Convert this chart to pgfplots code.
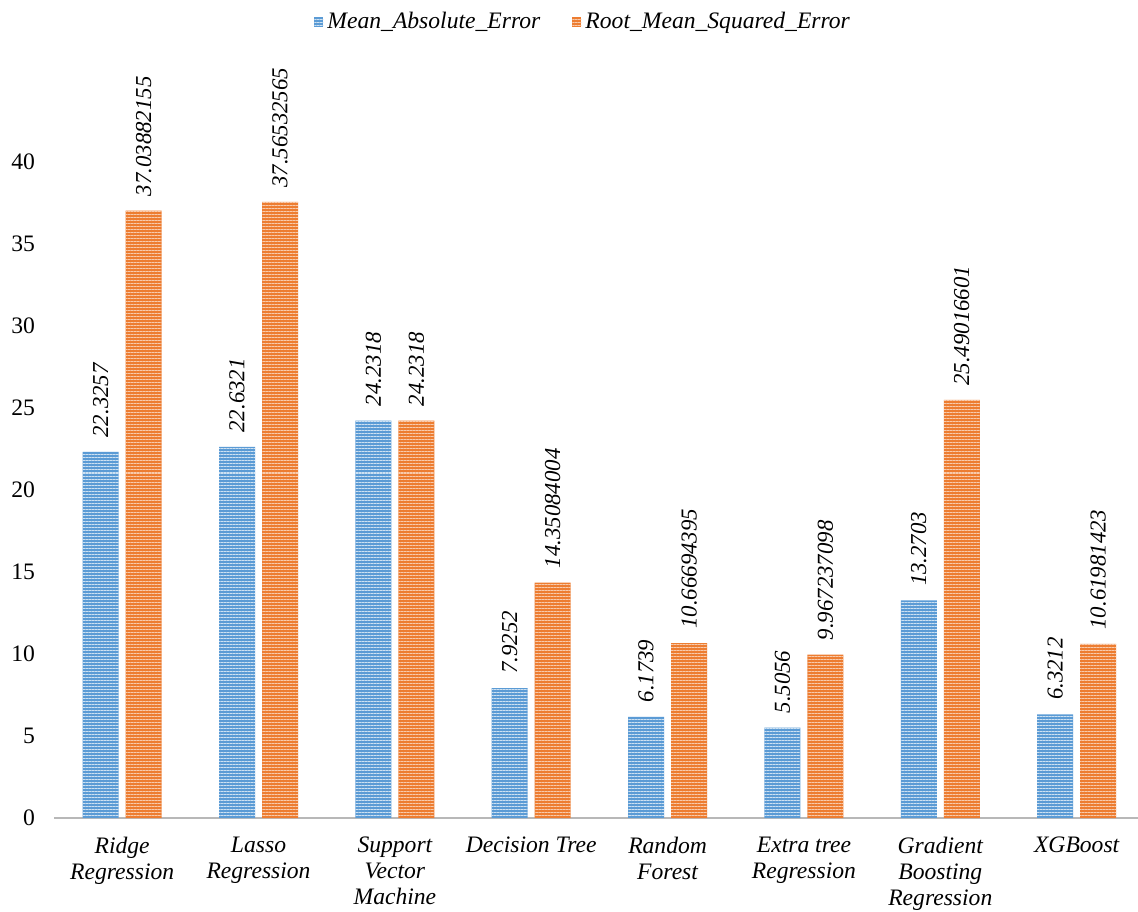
\documentclass[border=0pt]{standalone}
\usepackage{fontspec}
\setmainfont{Liberation Serif}
\usepackage{pgfplots}
\pgfplotsset{compat=1.18}
\usetikzlibrary{patterns.meta}
\definecolor{mblue}{RGB}{91,155,213}
\definecolor{morange}{RGB}{237,125,49}
\begin{document}
\begin{tikzpicture}
\path[use as bounding box] (0,0) rectangle (569pt,455.5pt);
\begin{axis}[
  at={(27pt,46.5pt)}, anchor=south west,
  scale only axis, width=542pt, height=369pt,
  ybar=3.5pt, bar width=18pt,
  xmin=-0.5, xmax=7.45, ymin=0, ymax=45,
  xtick={0,1,2,3,4,5,6,7},
  xticklabels={{Ridge\\Regression},{Lasso\\Regression},{Support\\Vector\\Machine},{Decision Tree},{Random\\Forest},{Extra tree\\Regression},{Gradient\\Boosting\\Regression},{XGBoost}},
  ytick={0,5,10,15,20,25,30,35,40},
  axis x line=bottom, axis y line=left, axis line style={-},
  x axis line style={draw=black!28, line width=1.4pt},
  y axis line style={draw=none},
  major tick length=0pt,
  /pgf/number format/assume math mode=true,
  tick label style={font=\fontsize{11.8}{13}\selectfont},
  xticklabel style={font=\fontsize{11.8}{13}\selectfont\itshape, align=center, yshift=-6pt},
  yticklabel style={xshift=-6pt},
  clip=false,
  point meta=explicit symbolic,
  nodes near coords={\pgfplotspointmeta},
  every node near coord/.append style={rotate=90, anchor=west, inner xsep=7pt, font=\fontsize{11.4}{13}\selectfont\itshape, black},
  legend style={at={(0.489,1.0786)}, anchor=center, draw=none, legend columns=2, font=\fontsize{11.8}{13}\selectfont\itshape, /tikz/every even column/.append style={column sep=14pt}},
  legend image code/.code={\fill[#1] (0pt,-2.3pt) rectangle (4.6pt,2.3pt);},
]
\addplot[draw=none, fill=mblue, postaction={pattern={Lines[angle=0,distance=1.5pt,line width=0.5pt]}, pattern color=white!70!mblue}] coordinates {
 (0,22.3257) [22.3257]
 (1,22.6321) [22.6321]
 (2,24.2318) [24.2318]
 (3,7.9252) [7.9252]
 (4,6.1739) [6.1739]
 (5,5.5056) [5.5056]
 (6,13.2703) [13.2703]
 (7,6.3212) [6.3212]
};
\addplot[draw=none, fill=morange, postaction={pattern={Lines[angle=0,distance=1.5pt,line width=0.5pt]}, pattern color=white!60!morange}] coordinates {
 (0,37.03882155) [37.03882155]
 (1,37.56532565) [37.56532565]
 (2,24.2318) [24.2318]
 (3,14.35084004) [14.35084004]
 (4,10.66694395) [10.66694395]
 (5,9.967237098) [9.967237098]
 (6,25.49016601) [25.49016601]
 (7,10.61981423) [10.61981423]
};
\legend{Mean\_Absolute\_Error, Root\_Mean\_Squared\_Error}
\end{axis}
\end{tikzpicture}
\end{document}
